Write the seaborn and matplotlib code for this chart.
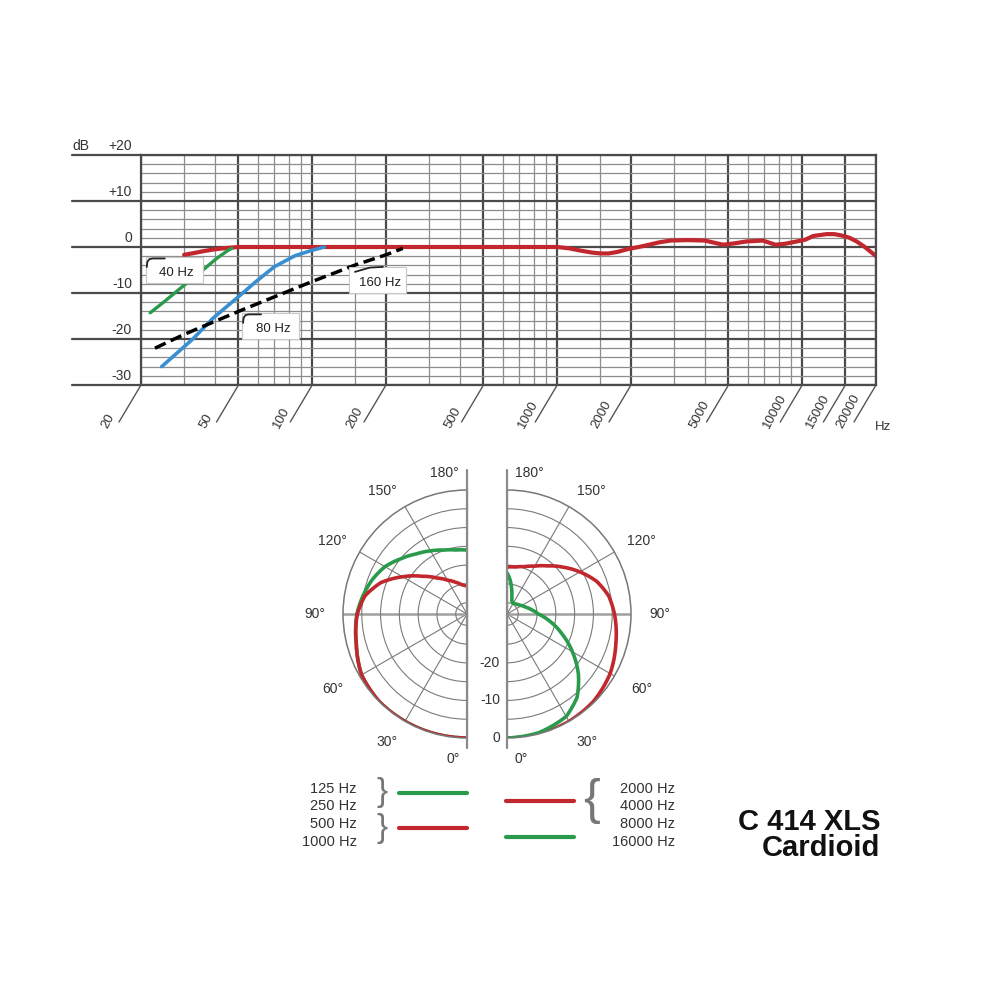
import numpy as np
import pandas as pd
import matplotlib
matplotlib.use("Agg")
import matplotlib.pyplot as plt
import matplotlib.ticker as mticker
from matplotlib.lines import Line2D
from matplotlib.patches import Rectangle
import seaborn as sns

# ---------------- data ----------------
freq_ticks = [20, 50, 100, 200, 500, 1000, 2000, 5000, 10000, 15000, 20000]
freq_tick_labels = ["20", "50", "100", "200", "500", "1000", "2000", "5000", "10000", "15000", "20000"]
freq_minor = [30, 40, 60, 70, 80, 90, 150, 300, 400, 600, 700, 800, 900, 1500,
              3000, 4000, 6000, 7000, 8000, 9000]
db_ticks = [20, 10, 0, -10, -20, -30]
db_tick_labels = ["+20", "+10", "0", "-10", "-20", "-30"]
db_minor = [18, 16, 14, 12, 8, 6, 4, 2, -2, -4, -6, -8, -12, -14, -16, -18,
            -22, -24, -26, -28]

resp_freq = [30, 33, 36, 40, 45, 50, 100, 200, 500, 1000, 1120, 1250, 1380, 1500, 1620,
             1750, 1960, 2150, 2330, 2600, 2900, 3400, 4000, 4400, 4760, 5300, 5900,
             6900, 7770, 8500, 9490, 10300, 11100, 12580, 13500, 14480, 15600, 16680,
             18000, 19500, 20000]
resp_db = [-1.7, -1.3, -0.9, -0.5, -0.2, 0, 0, 0, 0, 0, -0.3, -0.8, -1.2, -1.4, -1.4,
           -1.1, -0.4, 0.0, 0.4, 1.0, 1.4, 1.5, 1.4, 0.9, 0.5, 0.8, 1.2,
           1.4, 0.5, 0.7, 1.2, 1.6, 2.4, 2.8, 2.8, 2.5, 2.0, 1.2, 0.0, -1.5, -2.0]

hp40_freq = [21.8, 25, 30, 35.8, 40.7, 45.4, 47]
hp40_db = [-14.3, -11.8, -8.3, -5.0, -2.5, -0.7, -0.3]
hp80_freq = [24.3, 32.7, 39.3, 50, 59, 70, 85, 100, 112]
hp80_db = [-26, -19.9, -15.5, -10.8, -7.5, -4.3, -1.9, -0.7, 0]
hp160_freq = [22.8, 30, 50, 100, 150, 200, 234]
hp160_db = [-22, -19, -14, -7.5, -3.9, -1.7, -0.3]

filter_labels = ["40 Hz", "80 Hz", "160 Hz"]

# polar patterns (angle in degrees, level in dB)
pol_lo_theta = [0, 30, 45, 60, 75, 90, 100, 110, 120, 130, 140, 150, 160, 170, 180]   # 125 / 250 Hz
pol_lo_db = [0, 0, 0, -0.6, -2.5, -3.7, -4.9, -6.2, -7.8, -10.1, -12.1, -13.6,
             -14.9, -15.7, -16.0]
pol_mid_theta = [0, 15, 30, 45, 60, 75, 90, 100, 110, 120, 130, 140, 150, 160, 170, 180]  # 500 / 1000 Hz
pol_mid_db = [0, 0, 0, 0, -0.6, -2.5, -3.8, -5.4, -8.6, -13.2, -17.4, -20.5, -22.6,
              -24.0, -25.1, -25.6]
pol_hi_theta = [0, 15, 30, 45, 60, 75, 90, 100, 110, 120, 130, 140, 150, 160, 170, 180]  # 2000-8000 Hz
pol_hi_db = [0, 0, 0, -0.3, -1.3, -3.0, -4.4, -5.5, -7.6, -10.6, -13.6, -16.3, -18.3,
             -19.6, -20.3, -20.5]
pol_16k_theta = [0, 15, 30, 40, 50, 60, 70, 80, 90, 100, 110, 125, 140, 152, 160, 165,
                 170, 175, 180]                                                    # 16000 Hz
pol_16k_db = [0, -0.3, -1.5, -4.0, -8.2, -12.9, -17.4, -21.3, -24.7, -26.4, -27.7,
              -28.9, -29.5, -29.7, -29.3, -28.0, -26.0, -23.8, -22.0]

angle_labels = [0, 30, 60, 90, 120, 150, 180]
radial_ticks = [-30, -25, -20, -15, -10, -5]
radial_labels = [-20, -10, 0]

legend_left = ["125 Hz", "250 Hz", "500 Hz", "1000 Hz"]
legend_right = ["2000 Hz", "4000 Hz", "8000 Hz", "16000 Hz"]
title_lines = ["C 414 XLS", "Cardioid"]

RED = "#c1272d"
GREEN = "#2a9a4c"
BLUE = "#3a8fd0"
GRID_MAJ = "#4a4a4a"
GRID_MIN = "#8c8c8c"
TXT = "#333333"

# ---------------- style ----------------
sns.set_style("white")
plt.rcParams["font.family"] = ["Liberation Sans", "DejaVu Sans"]

fig = plt.figure(figsize=(10, 10), dpi=100)
W = H = 1000.0

# ---------------- frequency response ----------------
ax = fig.add_axes([0.141, 0.615, 0.735, 0.23])
ax.set_xscale("log")
ax.set_xlim(20, 20000)
ax.set_ylim(-30, 20)
ax.xaxis.set_major_locator(mticker.FixedLocator(freq_ticks))
ax.xaxis.set_minor_locator(mticker.FixedLocator(freq_minor))
ax.yaxis.set_major_locator(mticker.FixedLocator(db_ticks))
ax.yaxis.set_minor_locator(mticker.FixedLocator(db_minor))
ax.xaxis.set_major_formatter(mticker.NullFormatter())
ax.xaxis.set_minor_formatter(mticker.NullFormatter())
ax.yaxis.set_major_formatter(mticker.NullFormatter())
ax.tick_params(which="both", length=0)
ax.set_axisbelow(True)
ax.grid(which="major", color=GRID_MAJ, lw=1.6)
ax.grid(which="minor", color=GRID_MIN, lw=0.9)
for s in ax.spines.values():
    s.set_color(GRID_MAJ)
    s.set_linewidth(1.6)

sns.lineplot(x=resp_freq, y=resp_db, ax=ax, color=RED, lw=3.0, estimator=None, sort=False)
sns.lineplot(x=hp40_freq, y=hp40_db, ax=ax, color=GREEN, lw=2.4, estimator=None, sort=False)
sns.lineplot(x=hp80_freq, y=hp80_db, ax=ax, color=BLUE, lw=2.6, estimator=None, sort=False)
sns.lineplot(x=hp160_freq, y=hp160_db, ax=ax, color="black", lw=2.5, estimator=None, sort=False)
ax.lines[-1].set_dashes([3.4, 1.6])
for ln in ax.lines:
    ln.set_solid_capstyle("round")
ax.set_xlabel("")
ax.set_ylabel("")

# major horizontal lines extend to the left under the labels
for v, lbl in zip(db_ticks, db_tick_labels):
    ax.plot([-0.094, 0], [v, v], transform=ax.get_yaxis_transform(), clip_on=False,
            color=GRID_MAJ, lw=1.6)
    ax.annotate(lbl, xy=(0, v), xycoords=("axes fraction", "data"), xytext=(-9, 5),
                textcoords="offset pixels", ha="right", va="baseline", fontsize=10,
                color=TXT)
ax.annotate("dB", xy=(0, 20), xycoords=("axes fraction", "data"), xytext=(-69, 5),
            textcoords="offset pixels", ha="left", va="baseline", fontsize=10, color=TXT)

# slanted frequency ticks and labels
for f, lbl in zip(freq_ticks, freq_tick_labels):
    ax.annotate("", xy=(f, -30), xytext=(-22, -37), textcoords="offset pixels",
                annotation_clip=False,
                arrowprops=dict(arrowstyle="-", color="#555555", lw=1.0, shrinkA=0, shrinkB=0))
    ax.annotate(lbl, xy=(f, -30), xytext=(-36, -43), textcoords="offset pixels",
                rotation=62, rotation_mode="anchor", ha="left", va="center",
                fontsize=9.5, color=TXT, annotation_clip=False)
fig.text(0.875, 1 - 0.430, "Hz", ha="left", va="baseline", fontsize=9.5, color=TXT)

# filter labels with small symbols
label_anchor = [(28.0, -5.65), (69.2, -17.8), (188.9, -7.8)]
hp_icon = [(-30, -6), (-29.5, -11), (-27.5, -13.8), (-24, -14.5), (-12, -14.5)]
slope_icon = [(-25, -11), (-10, -15.3), (3, -16)]
icons = [hp_icon, hp_icon, slope_icon]
for (fx, fy), lbl, icon in zip(label_anchor, filter_labels, icons):
    cx, cy = ax.transData.transform((fx, fy))
    fig.add_artist(Rectangle(((cx - 31) / W, (cy - 10) / H), 57 / W, 26 / H,
                             transform=fig.transFigure, facecolor="white",
                             edgecolor="#c8c8c8", lw=0.8, zorder=5))
    fig.text(cx / W, cy / H, lbl, ha="center", va="center", fontsize=9.5,
             color="#222222", zorder=6)
    xs = [(cx + dx) / W for dx, dy in icon]
    ys = [(cy - dy) / H for dx, dy in icon]
    fig.add_artist(Line2D(xs, ys, transform=fig.transFigure, color="#222222",
                          lw=1.3, zorder=6))

# ---------------- polar diagrams ----------------
R_MIN = -33


def setup_polar(axp, direction):
    axp.set_theta_zero_location("S")
    axp.set_theta_direction(direction)
    axp.set_thetamin(0)
    axp.set_thetamax(180)
    axp.set_rlim(R_MIN, 0)
    axp.set_xticks(np.deg2rad([30, 60, 90, 120, 150]))
    axp.set_yticks(radial_ticks)
    axp.set_xticklabels([])
    axp.set_yticklabels([])
    axp.grid(True, color="#7a7a7a", lw=0.8)
    gl = axp.xaxis.get_gridlines()
    gl[2].set_color("#a0a0a0")
    gl[2].set_linewidth(1.8)
    axp.spines["polar"].set_color("#777777")
    axp.spines["polar"].set_linewidth(1.1)
    axp.spines["start"].set_visible(False)
    axp.spines["end"].set_visible(False)
    axp.spines["inner"].set_visible(False)


# square boxes; the half discs sit centred inside them
axL = fig.add_axes([0.281, 0.262, 0.248, 0.248], projection="polar")
axR = fig.add_axes([0.445, 0.262, 0.248, 0.248], projection="polar")
setup_polar(axL, -1)
setup_polar(axR, 1)

sns.lineplot(x=np.deg2rad(pol_lo_theta), y=pol_lo_db, ax=axL, color=GREEN, lw=2.6,
             estimator=None, sort=False)
sns.lineplot(x=np.deg2rad(pol_mid_theta), y=pol_mid_db, ax=axL, color=RED, lw=2.6,
             estimator=None, sort=False)
sns.lineplot(x=np.deg2rad(pol_hi_theta), y=pol_hi_db, ax=axR, color=RED, lw=2.6,
             estimator=None, sort=False)
sns.lineplot(x=np.deg2rad(pol_16k_theta), y=pol_16k_db, ax=axR, color=GREEN, lw=2.6,
             estimator=None, sort=False)
for axp in (axL, axR):
    axp.set_xlabel("")
    axp.set_ylabel("")
    axp.set_rlim(R_MIN, 0)
    axp.set_thetamin(0)
    axp.set_thetamax(180)
    for ln in axp.lines:
        # let the polar transform draw smooth curves between the read points
        ln.get_path()._interpolation_steps = 30
        ln.set_solid_capstyle("butt")

label_theta = [5.5, 32, 61, 90, 118.5, 145.5, 171]
label_r = [5.8, 7.3, 7.9, 7.6, 7.8, 6.8, 5.0]
for axp in (axL, axR):
    for a, t, r in zip(angle_labels, label_theta, label_r):
        axp.text(np.deg2rad(t), r, f"{a}°", ha="center", va="center", fontsize=10,
                 color=TXT, clip_on=False)
for v in radial_labels:
    axL.annotate(str(v), xy=(0, v), xytext=(33, 0), textcoords="offset pixels",
                 ha="right", va="center", fontsize=10, color=TXT, annotation_clip=False)

# vertical axis lines of the two half diagrams
for xline in (467, 507):
    fig.add_artist(Line2D([xline / W, xline / W], [1 - 470 / H, 1 - 748 / H],
                          transform=fig.transFigure, color="#8a8a8a", lw=1.6, zorder=3))

# ---------------- legend ----------------
for i, t in enumerate(legend_left):
    fig.text(0.357, 1 - (0.789 + 0.0175 * i), t, ha="right", va="center",
             fontsize=10.5, color=TXT)
for i, t in enumerate(legend_right):
    fig.text(0.675, 1 - (0.789 + 0.0175 * i), t, ha="right", va="center",
             fontsize=10.5, color=TXT)
fig.add_artist(Line2D([0.399, 0.467], [1 - 0.7925, 1 - 0.7925], color=GREEN, lw=3,
                      transform=fig.transFigure))
fig.add_artist(Line2D([0.399, 0.467], [1 - 0.8275, 1 - 0.8275], color=RED, lw=3,
                      transform=fig.transFigure))
fig.add_artist(Line2D([0.506, 0.574], [1 - 0.801, 1 - 0.801], color=RED, lw=3,
                      transform=fig.transFigure))
fig.add_artist(Line2D([0.506, 0.574], [1 - 0.8373, 1 - 0.8373], color=GREEN, lw=3,
                      transform=fig.transFigure))
fig.text(0.382, 1 - 0.792, "}", ha="center", va="center", fontsize=24, color="#777777")
fig.text(0.382, 1 - 0.828, "}", ha="center", va="center", fontsize=24, color="#777777")
fig.text(0.591, 1 - 0.801, "{", ha="center", va="center", fontsize=36, color="#777777")

fig.text(0.880, 1 - 0.830, title_lines[0], ha="right", va="baseline", fontsize=21,
         fontweight="bold", color="#111111")
fig.text(0.880, 1 - 0.856, title_lines[1], ha="right", va="baseline", fontsize=21,
         fontweight="bold", color="#111111")

fig.savefig("out.png", dpi=100, facecolor="white")
